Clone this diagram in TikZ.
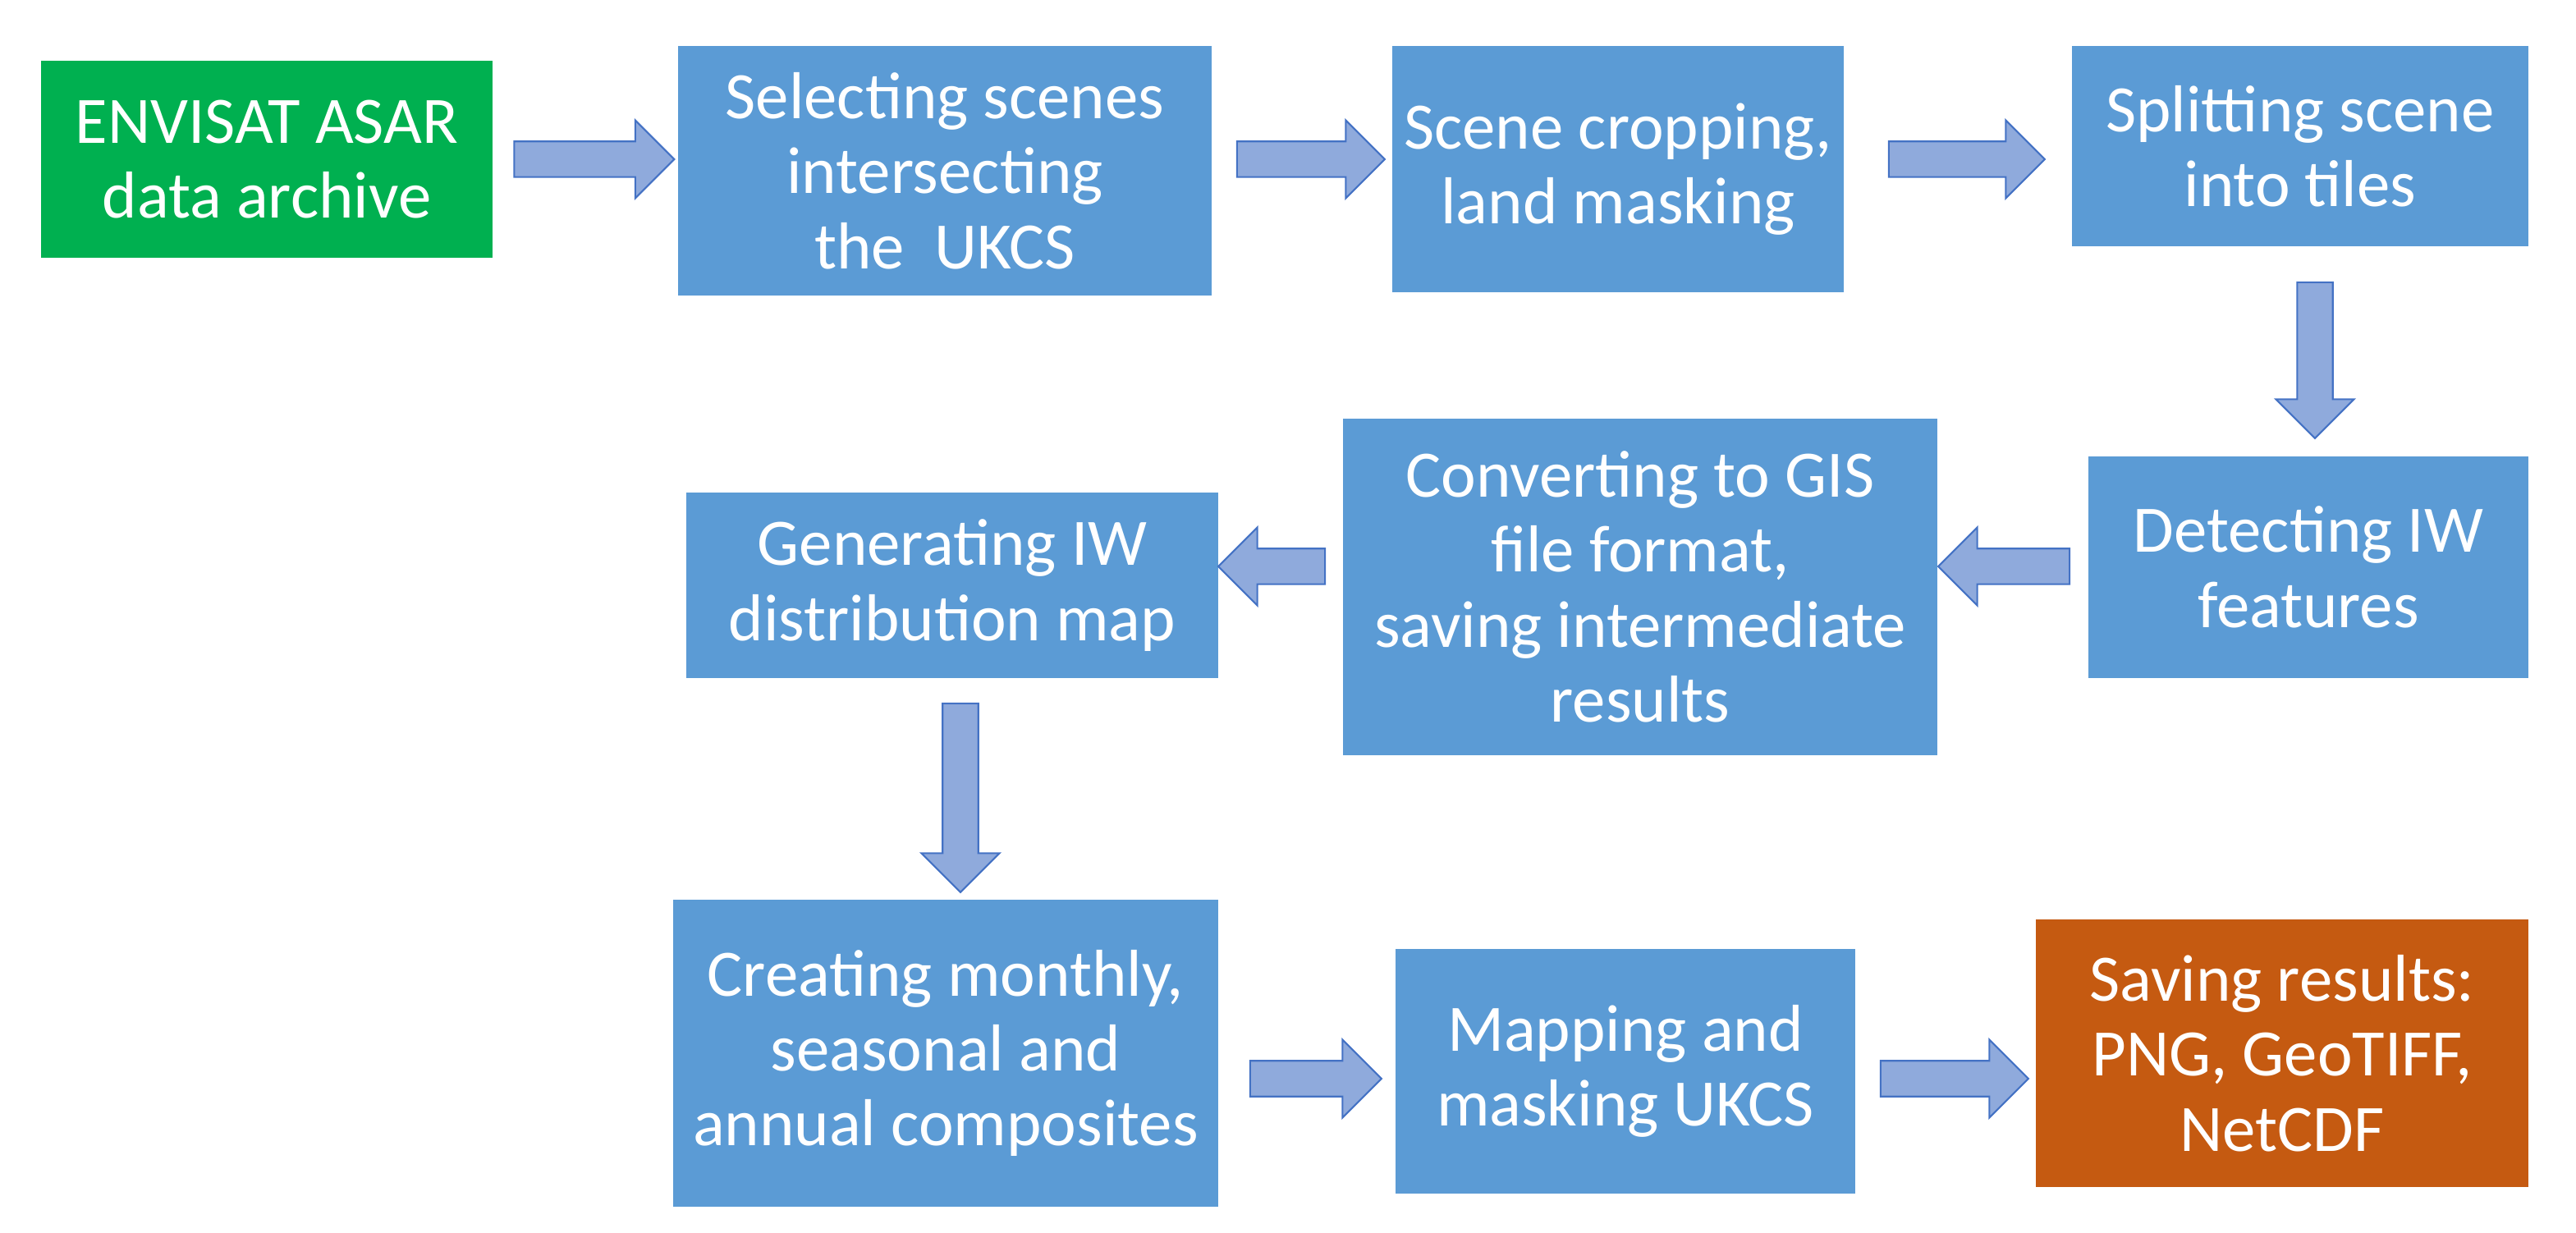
\documentclass[tikz,border=0pt]{standalone}
\usepackage{fontspec}
\setmainfont{Carlito}
\usetikzlibrary{shapes,arrows,positioning}
\definecolor{boxblue}{HTML}{5B9BD5}
\definecolor{boxgreen}{HTML}{00B050}
\definecolor{boxorange}{HTML}{C55A11}
\definecolor{arrowfill}{HTML}{8FAADC}
\definecolor{arrowline}{HTML}{4472C4}

\begin{document}
\begin{tikzpicture}
      \tikzstyle{stage} = [rectangle, fill=boxblue, text=white, align=center, inner sep=0pt, font=\fontsize{23}{26}\selectfont]
      \tikzstyle{flow} = [single arrow, draw=arrowline, fill=arrowfill, inner sep=0.2cm, minimum width=0.95cm, single arrow head extend=0.25cm, line width=0.6pt]

      \useasboundingbox (0,0) rectangle (31.38,15.02);

      \node[stage, fill=boxgreen, minimum width=5.5cm, minimum height=2.4cm] (archive) at (3.25,13.08) {ENVISAT ASAR\\data archive};
      \node[stage, minimum width=6.5cm, minimum height=3.04cm] (select) at (11.51,12.94) {Selecting scenes\\intersecting\\the\ \ UKCS};
      \node[stage, minimum width=5.5cm, minimum height=3cm] (crop) at (19.71,12.96) {Scene cropping,\\land masking};
      \node[stage, minimum width=5.56cm, minimum height=2.44cm] (split) at (28.02,13.24) {Splitting scene\\into tiles};
      \node[stage, minimum width=5.36cm, minimum height=2.7cm] (detect) at (28.12,8.11) {Detecting IW\\features};
      \node[stage, minimum width=7.24cm, minimum height=4.1cm] (convert) at (19.98,7.87) {Converting to GIS\\file format,\\saving intermediate\\results};
      \node[stage, minimum width=6.48cm, minimum height=2.26cm] (distmap) at (11.6,7.89) {Generating IW\\distribution map};
      \node[stage, minimum width=6.64cm, minimum height=3.74cm] (composite) at (11.52,2.19) {Creating monthly,\\seasonal and\\annual composites};
      \node[stage, minimum width=5.6cm, minimum height=2.98cm] (mapping) at (19.8,1.97) {Mapping and\\masking UKCS};
      \node[stage, fill=boxorange, minimum width=6cm, minimum height=3.26cm] (save) at (27.8,2.19) {Saving results:\\PNG, GeoTIFF,\\NetCDF};

      \path (archive.east |- 0,13.08) -- node[flow, minimum height=1.95cm] {} (select.west |- 0,13.08);
      \path (select.east |- 0,13.08) -- node[flow, minimum height=1.8cm] {} (crop.west |- 0,13.08);
      \path (crop.east |- 0,13.08) -- node[flow, minimum height=1.9cm] {} (split.west |- 0,13.08);
      \path (split.south -| 28.2,0) -- node[flow, minimum height=1.9cm, shape border rotate=270] {} (detect.north -| 28.2,0);
      \path (detect.west |- 0,8.12) -- node[flow, minimum height=1.6cm, shape border rotate=180] {} (convert.east |- 0,8.12);
      \path (convert.west |- 0,8.12) -- node[flow, minimum height=1.3cm, shape border rotate=180] {} (distmap.east |- 0,8.12);
      \path (distmap.south -| 11.7,0) -- node[flow, minimum height=2.3cm, shape border rotate=270] {} (composite.north -| 11.7,0);
      \path (composite.east |- 0,1.88) -- node[flow, minimum height=1.6cm] {} (mapping.west |- 0,1.88);
      \path (mapping.east |- 0,1.88) -- node[flow, minimum height=1.8cm] {} (save.west |- 0,1.88);
    \end{tikzpicture}
\end{document}
